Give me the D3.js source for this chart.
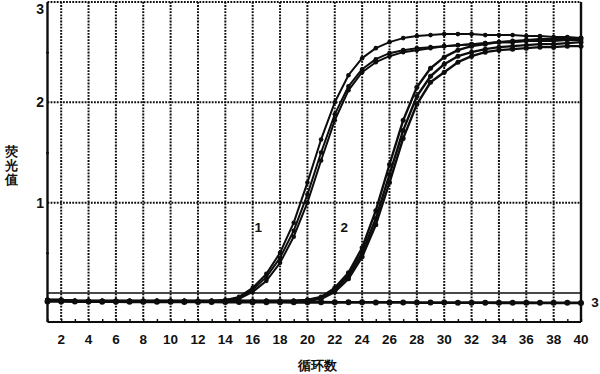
<!DOCTYPE html>
<html>
<head>
<meta charset="utf-8">
<script src="https://cdn.jsdelivr.net/npm/d3@7"></script>
<style>
  html, body { margin: 0; padding: 0; background: #fff; }
  svg { display: block; }
  text { font-family: "Liberation Sans", Arial, sans-serif; fill: #111; }
</style>
</head>
<body>
<svg id="chart" width="600" height="374"></svg>
<script>
// qPCR amplification curves — fluorescence vs cycle number

const cycles = d3.range(1, 41);
const xTicks = [2, 4, 6, 8, 10, 12, 14, 16, 18, 20, 22, 24, 26, 28, 30, 32, 34, 36, 38, 40];
const yTicks = [1, 2, 3];
const yMinorTicks = [0.5, 1.5, 2.5];

// group 1 (three replicates)
const s1a = [0.03, 0.03, 0.02, 0.02, 0.02, 0.02, 0.02, 0.02, 0.02, 0.02, 0.02, 0.02, 0.02, 0.03, 0.06, 0.15, 0.29, 0.50, 0.80, 1.20,
             1.63, 2.00, 2.27, 2.44, 2.54, 2.60, 2.64, 2.66, 2.67, 2.68, 2.68, 2.68, 2.67, 2.67, 2.67, 2.66, 2.66, 2.65, 2.65, 2.64];
const s1b = [0.03, 0.03, 0.02, 0.02, 0.02, 0.02, 0.02, 0.02, 0.02, 0.02, 0.02, 0.02, 0.02, 0.03, 0.05, 0.13, 0.26, 0.45, 0.72, 1.08,
             1.50, 1.88, 2.16, 2.33, 2.43, 2.49, 2.52, 2.54, 2.55, 2.56, 2.57, 2.58, 2.59, 2.60, 2.60, 2.61, 2.61, 2.62, 2.62, 2.62];
const s1c = [0.03, 0.03, 0.02, 0.02, 0.02, 0.02, 0.02, 0.02, 0.02, 0.02, 0.02, 0.02, 0.02, 0.02, 0.04, 0.11, 0.22, 0.40, 0.66, 1.00,
             1.42, 1.82, 2.12, 2.30, 2.40, 2.46, 2.50, 2.52, 2.54, 2.56, 2.57, 2.58, 2.59, 2.60, 2.60, 2.61, 2.61, 2.61, 2.62, 2.62];

// group 2 (three replicates)
const s2a = [0.03, 0.03, 0.02, 0.02, 0.02, 0.02, 0.02, 0.02, 0.02, 0.02, 0.02, 0.02, 0.02, 0.02, 0.02, 0.02, 0.02, 0.02, 0.02, 0.03,
             0.06, 0.15, 0.30, 0.55, 0.92, 1.38, 1.82, 2.15, 2.34, 2.45, 2.52, 2.56, 2.58, 2.60, 2.61, 2.62, 2.63, 2.63, 2.64, 2.64];
const s2b = [0.03, 0.03, 0.02, 0.02, 0.02, 0.02, 0.02, 0.02, 0.02, 0.02, 0.02, 0.02, 0.02, 0.02, 0.02, 0.02, 0.02, 0.02, 0.02, 0.03,
             0.05, 0.13, 0.27, 0.50, 0.84, 1.28, 1.72, 2.06, 2.26, 2.38, 2.46, 2.50, 2.53, 2.55, 2.56, 2.57, 2.58, 2.58, 2.59, 2.60];
const s2c = [0.03, 0.03, 0.02, 0.02, 0.02, 0.02, 0.02, 0.02, 0.02, 0.02, 0.02, 0.02, 0.02, 0.02, 0.02, 0.02, 0.02, 0.02, 0.02, 0.02,
             0.04, 0.11, 0.24, 0.46, 0.78, 1.20, 1.64, 1.98, 2.20, 2.30, 2.40, 2.46, 2.50, 2.52, 2.53, 2.54, 2.55, 2.55, 2.56, 2.56];

// group 3 (negative control, flat)
const s3 = [0.015, 0.015, 0.014, 0.014, 0.013, 0.013, 0.012, 0.012, 0.011, 0.011, 0.010, 0.010, 0.010, 0.009, 0.009, 0.008, 0.008, 0.008, 0.007, 0.007,
            0.007, 0.006, 0.006, 0.006, 0.005, 0.005, 0.005, 0.004, 0.004, 0.004, 0.003, 0.003, 0.003, 0.002, 0.002, 0.002, 0.001, 0.001, 0.001, 0.000];

const threshold = 0.1;

// curve group labels: [text, cycle, value]
const groupLabels = [["1", 16.4, 0.75], ["2", 22.7, 0.75]];

(function () {
    const svg = d3.select('#chart');

    const x = d3.scaleLinear().domain([1, 40]).range([47.5, 581]);
    const y = d3.scaleLinear().domain([-0.19, 3]).range([322, 2]);

    const INK = '#0d0d0d';
    const pLeft = x(1), pRight = x(40), pTop = y(3), pBottom = y(-0.19);

    // dotted grid
    const grid = svg.append('g')
        .attr('stroke', INK)
        .attr('stroke-width', 2)
        .attr('stroke-dasharray', '1.8,1.3')
        .attr('fill', 'none');

    grid.selectAll('line.v')
        .data(xTicks.filter(d => d < 40))
        .join('line')
        .attr('class', 'v')
        .attr('x1', d => x(d)).attr('x2', d => x(d))
        .attr('y1', pTop).attr('y2', pBottom);

    grid.selectAll('line.h')
        .data(yTicks)
        .join('line')
        .attr('class', 'h')
        .attr('x1', pLeft).attr('x2', pRight)
        .attr('y1', d => y(d)).attr('y2', d => y(d));

    // frame: solid left, right, bottom
    const frame = svg.append('g').attr('stroke', INK).attr('fill', 'none');
    frame.append('line').attr('x1', pLeft).attr('x2', pLeft).attr('y1', pTop).attr('y2', pBottom).attr('stroke-width', 2.4);
    frame.append('line').attr('x1', pRight).attr('x2', pRight).attr('y1', pTop).attr('y2', pBottom).attr('stroke-width', 2.4);
    frame.append('line').attr('x1', pLeft).attr('x2', pRight).attr('y1', pBottom).attr('y2', pBottom).attr('stroke-width', 2);

    // bottom axis small ticks every cycle
    const xAxis = d3.axisTop(x)
        .tickValues(cycles)
        .tickSize(3)
        .tickFormat('');
    svg.append('g')
        .attr('transform', `translate(0,${pBottom})`)
        .call(xAxis)
        .call(g => g.select('.domain').remove())
        .call(g => g.selectAll('line').attr('stroke', INK).attr('stroke-width', 1.4));

    // x tick labels
    svg.append('g').selectAll('text')
        .data(xTicks)
        .join('text')
        .attr('x', d => x(d))
        .attr('y', 339)
        .attr('text-anchor', 'middle')
        .attr('dominant-baseline', 'central')
        .attr('font-size', '13.5px')
        .attr('font-weight', 700)
        .text(d => d);

    // left axis minor ticks
    const yAxis = d3.axisLeft(y)
        .tickValues(yMinorTicks)
        .tickSize(3)
        .tickFormat('');
    svg.append('g')
        .attr('transform', `translate(${pLeft + 1.5},0)`)
        .call(yAxis)
        .call(g => g.select('.domain').remove())
        .call(g => g.selectAll('line').attr('stroke', INK).attr('stroke-width', 1.5));

    // y tick labels
    svg.append('g').selectAll('text')
        .data(yTicks)
        .join('text')
        .attr('x', 44)
        .attr('y', d => Math.max(y(d), 9))
        .attr('text-anchor', 'end')
        .attr('dominant-baseline', 'central')
        .attr('font-size', '14px')
        .attr('font-weight', 700)
        .text(d => d);

    // axis titles
    svg.append('text')
        .attr('x', 11)
        .attr('y', 144)
        .attr('text-anchor', 'middle')
        .attr('font-size', '13px')
        .attr('font-weight', 700)
        .attr('font-family', '"Noto Sans CJK SC", sans-serif')
        .selectAll('tspan')
        .data(['荧', '光', '值'])
        .join('tspan')
        .attr('x', 11)
        .attr('dy', (d, i) => i === 0 ? '0.9em' : '1.1em')
        .text(d => d);

    svg.append('text')
        .attr('x', 317)
        .attr('y', 365)
        .attr('text-anchor', 'middle')
        .attr('dominant-baseline', 'central')
        .attr('font-size', '13px')
        .attr('font-weight', 700)
        .attr('font-family', '"Noto Sans CJK SC", sans-serif')
        .text('循环数');

    // threshold line
    svg.append('line')
        .attr('x1', pLeft).attr('x2', pRight)
        .attr('y1', y(threshold)).attr('y2', y(threshold))
        .attr('stroke', INK)
        .attr('stroke-width', 1.5);

    // curves
    const series = [
        { values: s3, width: 2.8, r: 3 },
        { values: s1a, width: 2.0, r: 2.3 },
        { values: s1b, width: 2.0, r: 2.3 },
        { values: s1c, width: 2.0, r: 2.3 },
        { values: s2a, width: 2.4, r: 2.5 },
        { values: s2b, width: 2.4, r: 2.5 },
        { values: s2c, width: 2.4, r: 2.5 }
    ];

    const line = d3.line()
        .x((d, i) => x(cycles[i]))
        .y(d => y(d));

    const curves = svg.append('g');
    series.forEach(s => {
        curves.append('path')
            .attr('d', line(s.values))
            .attr('fill', 'none')
            .attr('stroke', INK)
            .attr('stroke-width', s.width)
            .attr('stroke-linejoin', 'round');
        curves.append('g').selectAll('circle')
            .data(s.values)
            .join('circle')
            .attr('cx', (d, i) => x(cycles[i]))
            .attr('cy', d => y(d))
            .attr('r', s.r)
            .attr('fill', INK);
    });

    // group labels
    svg.append('g').selectAll('text')
        .data(groupLabels)
        .join('text')
        .attr('x', d => x(d[1]))
        .attr('y', d => y(d[2]))
        .attr('text-anchor', 'middle')
        .attr('dominant-baseline', 'central')
        .attr('font-size', '13.5px')
        .attr('font-weight', 700)
        .text(d => d[0]);

    svg.append('text')
        .attr('x', 595)
        .attr('y', y(s3[s3.length - 1]))
        .attr('text-anchor', 'middle')
        .attr('dominant-baseline', 'central')
        .attr('font-size', '13.5px')
        .attr('font-weight', 700)
        .text('3');
})();
</script>
</body>
</html>
